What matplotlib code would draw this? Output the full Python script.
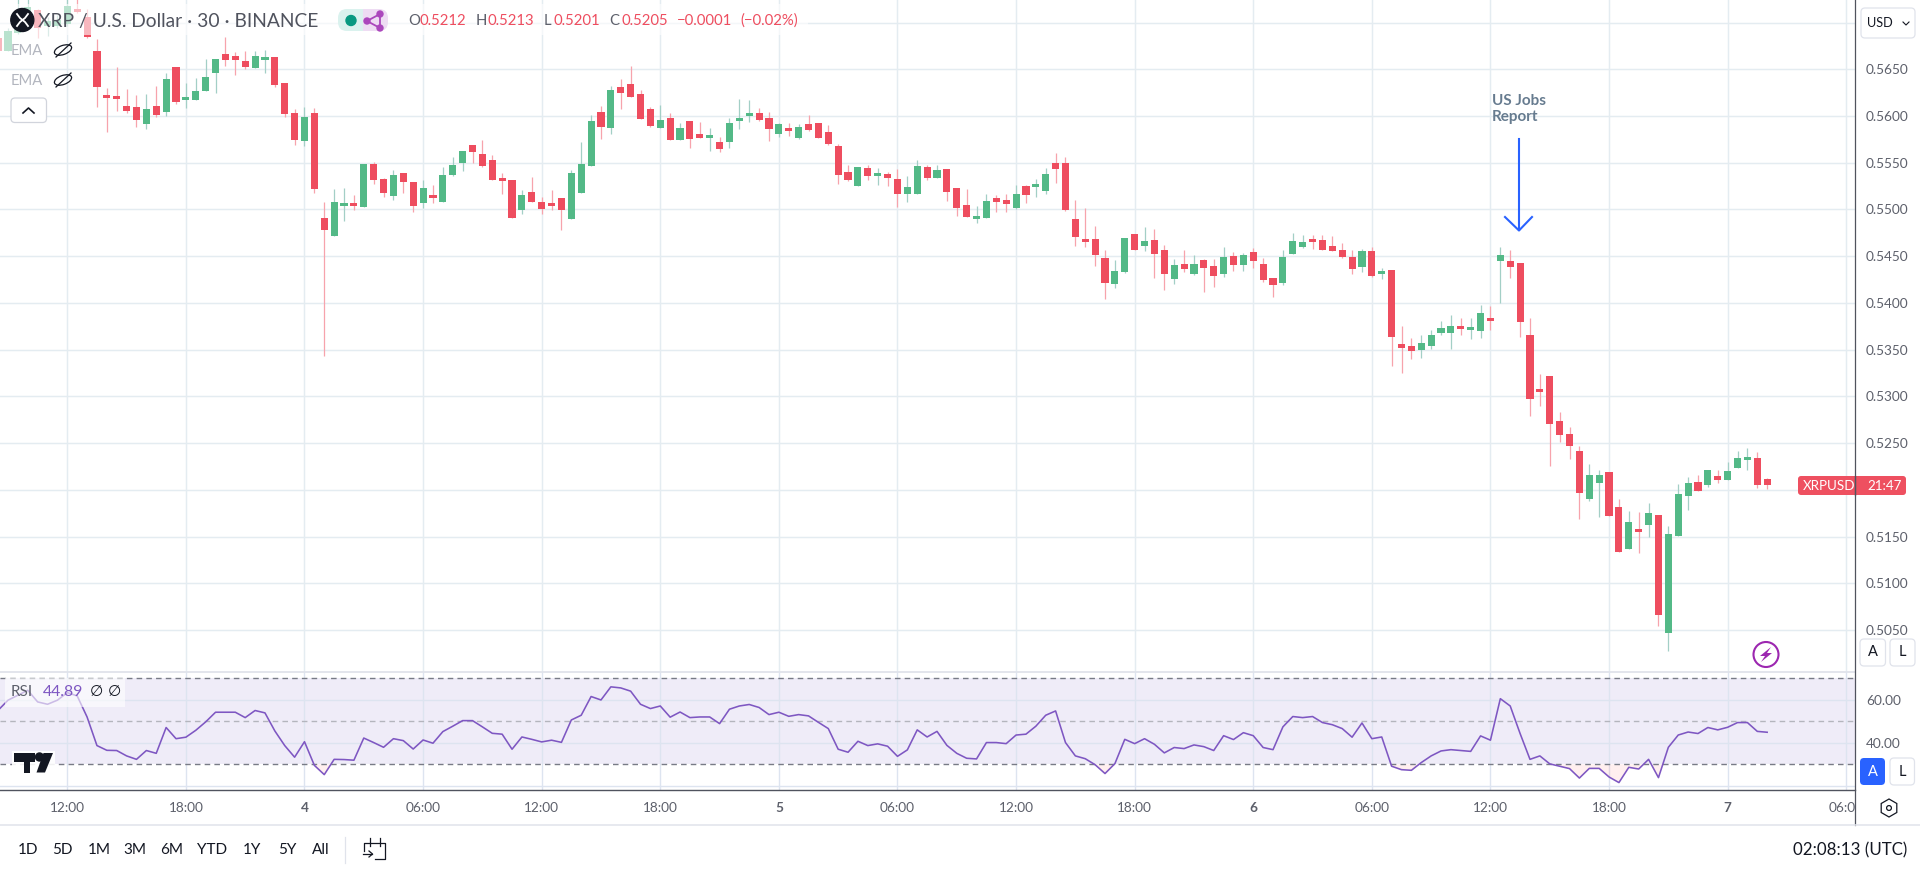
#!/usr/bin/env python3
"""
XRP / USD 30 minute candles with RSI pane, drawn to look like the tradingview screen
prices below are in 1/10000 dollar, read off the screenshot
"""

import numpy as np
import matplotlib

matplotlib.use("Agg")
import matplotlib.pyplot as plt
from matplotlib.patches import Circle, Ellipse, FancyBboxPatch, Polygon, Rectangle, RegularPolygon
from matplotlib.transforms import Bbox, TransformedBbox

plt.rcParams["font.family"] = ["Lato", "DejaVu Sans"]

W, H = 1920, 873

# candle 0 is 12:00 on the 3rd, one candle is 30 minutes
first_candle = -7

opens = [
    5683, 5670, 5689, 5703, 5713, 5696, 5696, 5699, 5714, 5706,
    5670, 5622, 5621, 5611, 5610, 5591, 5611, 5604, 5652, 5617,
    5617, 5627, 5646, 5666, 5664, 5659, 5651, 5660, 5663, 5635,
    5603, 5573, 5603, 5491, 5472, 5504, 5505, 5503, 5549, 5533,
    5514, 5539, 5529, 5507, 5516, 5508, 5537, 5550, 5569, 5559,
    5553, 5534, 5532, 5499, 5519, 5508, 5507, 5512, 5490, 5518,
    5547, 5604, 5587, 5631, 5634, 5624, 5608, 5587, 5598, 5574,
    5595, 5581, 5577, 5572, 5572, 5595, 5600, 5603, 5598, 5581,
    5587, 5577, 5591, 5593, 5583, 5568, 5540, 5525, 5544, 5536,
    5538, 5533, 5517, 5517, 5545, 5534, 5543, 5523, 5505, 5490,
    5491, 5512, 5510, 5502, 5525, 5524, 5520, 5550, 5550, 5490,
    5468, 5468, 5448, 5420, 5433, 5474, 5461, 5467, 5457, 5426,
    5442, 5431, 5446, 5440, 5431, 5450, 5441, 5455, 5442, 5427,
    5421, 5452, 5460, 5468, 5467, 5461, 5457, 5449, 5438, 5456,
    5431, 5435, 5356, 5354, 5350, 5354, 5368, 5368, 5375, 5371,
    5370, 5384, 5445, 5445, 5443, 5366, 5306, 5322, 5274, 5260,
    5242, 5190, 5207, 5219, 5182, 5137, 5156, 5162, 5173, 5047,
    5151, 5193, 5208, 5205, 5215, 5210, 5223, 5232, 5234, 5212,
]
highs = [
    5688, 5694, 5726, 5726, 5715, 5706, 5708, 5726, 5726, 5714,
    5682, 5630, 5652, 5629, 5622, 5624, 5632, 5646, 5652, 5635,
    5641, 5661, 5661, 5685, 5668, 5670, 5670, 5671, 5663, 5635,
    5608, 5610, 5609, 5508, 5522, 5523, 5516, 5549, 5551, 5534,
    5542, 5539, 5529, 5532, 5526, 5545, 5556, 5563, 5569, 5574,
    5558, 5539, 5532, 5521, 5535, 5513, 5521, 5512, 5542, 5572,
    5601, 5611, 5632, 5640, 5654, 5628, 5610, 5612, 5603, 5593,
    5595, 5594, 5587, 5578, 5598, 5618, 5617, 5609, 5604, 5593,
    5593, 5591, 5601, 5593, 5590, 5570, 5548, 5545, 5548, 5544,
    5540, 5543, 5536, 5553, 5548, 5548, 5543, 5523, 5522, 5504,
    5517, 5516, 5517, 5526, 5526, 5533, 5544, 5560, 5556, 5510,
    5502, 5482, 5457, 5446, 5470, 5474, 5481, 5479, 5462, 5447,
    5457, 5451, 5447, 5447, 5460, 5455, 5453, 5459, 5448, 5427,
    5457, 5475, 5473, 5473, 5473, 5472, 5464, 5457, 5458, 5460,
    5437, 5435, 5375, 5363, 5366, 5371, 5381, 5387, 5384, 5384,
    5398, 5397, 5460, 5457, 5443, 5384, 5324, 5322, 5283, 5267,
    5247, 5228, 5221, 5219, 5190, 5177, 5176, 5186, 5173, 5161,
    5206, 5214, 5216, 5221, 5221, 5230, 5242, 5245, 5240, 5213,
]
lows = [
    5670, 5670, 5688, 5700, 5684, 5686, 5694, 5696, 5710, 5684,
    5610, 5583, 5605, 5603, 5588, 5586, 5599, 5600, 5613, 5609,
    5617, 5627, 5625, 5654, 5644, 5650, 5651, 5646, 5631, 5599,
    5569, 5568, 5518, 5343, 5472, 5488, 5499, 5503, 5527, 5513,
    5510, 5518, 5497, 5502, 5507, 5508, 5536, 5541, 5550, 5545,
    5532, 5517, 5491, 5495, 5508, 5495, 5499, 5478, 5490, 5518,
    5547, 5575, 5581, 5608, 5620, 5597, 5588, 5587, 5574, 5574,
    5566, 5577, 5563, 5562, 5566, 5586, 5594, 5595, 5573, 5578,
    5579, 5575, 5584, 5577, 5569, 5527, 5531, 5525, 5532, 5526,
    5525, 5503, 5508, 5517, 5532, 5534, 5509, 5493, 5492, 5486,
    5491, 5497, 5497, 5501, 5507, 5513, 5517, 5528, 5498, 5461,
    5460, 5440, 5404, 5416, 5432, 5457, 5456, 5427, 5414, 5420,
    5433, 5430, 5412, 5417, 5428, 5434, 5434, 5437, 5422, 5406,
    5419, 5452, 5459, 5458, 5457, 5456, 5448, 5431, 5433, 5428,
    5426, 5332, 5325, 5340, 5341, 5351, 5366, 5351, 5366, 5361,
    5363, 5371, 5400, 5427, 5364, 5279, 5290, 5226, 5251, 5233,
    5169, 5188, 5171, 5172, 5134, 5137, 5132, 5149, 5054, 5028,
    5151, 5178, 5199, 5203, 5207, 5210, 5223, 5221, 5202, 5201,
]
closes = [
    5670, 5691, 5708, 5717, 5694, 5702, 5703, 5718, 5711, 5685,
    5631, 5619, 5618, 5605, 5596, 5608, 5601, 5640, 5615, 5618,
    5627, 5642, 5661, 5660, 5660, 5652, 5664, 5661, 5633, 5602,
    5574, 5599, 5522, 5478, 5508, 5507, 5504, 5549, 5532, 5518,
    5537, 5529, 5504, 5523, 5512, 5537, 5548, 5563, 5562, 5547,
    5532, 5531, 5491, 5516, 5508, 5501, 5504, 5499, 5539, 5549,
    5595, 5588, 5628, 5625, 5620, 5597, 5589, 5596, 5574, 5587,
    5575, 5577, 5578, 5565, 5593, 5598, 5601, 5596, 5586, 5591,
    5584, 5588, 5585, 5577, 5570, 5537, 5532, 5545, 5536, 5539,
    5534, 5517, 5524, 5547, 5534, 5542, 5519, 5502, 5492, 5491,
    5509, 5508, 5506, 5517, 5516, 5525, 5538, 5543, 5499, 5471,
    5465, 5451, 5421, 5434, 5470, 5457, 5466, 5452, 5431, 5441,
    5436, 5442, 5437, 5429, 5449, 5441, 5451, 5445, 5424, 5419,
    5449, 5466, 5465, 5465, 5457, 5456, 5449, 5436, 5456, 5429,
    5432, 5364, 5352, 5349, 5357, 5366, 5373, 5375, 5372, 5372,
    5389, 5381, 5451, 5438, 5380, 5297, 5305, 5270, 5259, 5247,
    5197, 5216, 5216, 5172, 5134, 5166, 5155, 5175, 5066, 5153,
    5196, 5207, 5199, 5221, 5211, 5220, 5234, 5235, 5205, 5205,
]
rsi_values = [
    55.1, 59.8, 62.1, 64.4, 59.0, 57.9, 59.8, 63.3, 61.8, 52.0,
    38.7, 36.5, 36.4, 33.9, 32.3, 36.4, 35.1, 47.1, 41.9, 42.6,
    45.8, 49.7, 54.2, 54.2, 54.2, 51.7, 55.0, 53.9, 45.5, 38.7,
    33.3, 40.5, 29.5, 25.2, 32.3, 32.2, 31.9, 42.2, 40.1, 37.9,
    41.9, 41.0, 37.1, 41.3, 39.8, 45.2, 47.7, 50.3, 50.3, 47.4,
    44.4, 44.0, 37.0, 42.7, 41.6, 40.4, 41.2, 40.2, 50.6, 52.8,
    61.5, 59.9, 66.0, 65.5, 64.0, 57.9, 55.9, 57.1, 51.9, 54.3,
    51.7, 52.0, 52.0, 48.9, 55.6, 57.1, 57.8, 56.4, 53.1, 54.2,
    52.3, 53.1, 52.5, 49.5, 46.6, 37.0, 35.6, 40.7, 38.7, 39.5,
    38.4, 33.7, 36.7, 46.0, 42.7, 45.3, 38.8, 35.1, 32.8, 32.5,
    40.1, 40.1, 39.6, 43.6, 44.0, 47.7, 52.8, 54.8, 40.1, 33.9,
    32.6, 29.8, 25.7, 30.3, 41.6, 39.6, 41.9, 39.3, 35.3, 37.8,
    37.3, 39.0, 38.2, 36.4, 43.3, 41.5, 44.7, 43.3, 37.8, 36.8,
    47.4, 52.2, 51.7, 52.2, 49.4, 48.4, 46.6, 42.6, 49.2, 41.9,
    42.7, 29.1, 27.5, 27.2, 30.8, 33.9, 36.2, 36.8, 36.4, 36.0,
    43.2, 41.2, 60.5, 57.1, 44.3, 32.3, 33.9, 30.2, 29.1, 28.0,
    23.6, 28.1, 28.1, 24.1, 21.5, 28.6, 27.8, 32.3, 23.8, 37.9,
    43.6, 45.0, 44.3, 47.1, 46.0, 47.2, 49.4, 49.4, 45.3, 44.89,
]

time_labels = ["12:00", "18:00", "4", "06:00", "12:00", "18:00", "5", "06:00",
               "12:00", "18:00", "6", "06:00", "12:00", "18:00", "7", "06:00"]
price_ticks = [0.505, 0.51, 0.515, 0.52, 0.525, 0.53, 0.535, 0.54, 0.545, 0.55,
               0.555, 0.56, 0.565, 0.57]
# covered on screen by the USD button and the last price tag
price_labels = ["0.5050", "0.5100", "0.5150", "", "0.5250", "0.5300", "0.5350", "0.5400", "0.5450",
                "0.5500", "0.5550", "0.5600", "0.5650", ""]
range_buttons = ["1D", "5D", "1M", "3M", "6M", "YTD", "1Y", "5Y", "All"]
range_button_x = [28, 62, 99, 135, 172, 212, 252, 287, 321]

GREEN, RED = "#53b987", "#ee4d5f"
GREEN_WICK, RED_WICK = "#a3cfc6", "#f7a3ac"
GRID = "#e4ecf1"
AXIS_TEXT = "#5d606b"
DARK = "#131722"
RSI_LINE = "#7e57c2"
BORDER = "#e0e3eb"


def px_axes(fig, left, top, right, bottom):
    return fig.add_axes([left / W, 1 - bottom / H, (right - left) / W, (bottom - top) / H])


def box(ax, x0, y0, x1, y1, face="white", edge=BORDER, radius=4, lw=0.9, **kw):
    patch = FancyBboxPatch((x0, y0), x1 - x0, y1 - y0, boxstyle=f"round,pad=0,rounding_size={radius}",
                           facecolor=face, edgecolor=edge, linewidth=lw, **kw)
    ax.add_patch(patch)


def label(ax, x, y, text, color=DARK, size=9.6, ha="left", **kw):
    ax.text(x, y, text, color=color, fontsize=size, ha=ha, va="center", **kw)


def draw_candles(ax, index, o, h, l, c):
    up = c >= o
    wick_colors = [GREEN_WICK if u else RED_WICK for u in up]
    ax.vlines(index, l, h, colors=wick_colors, linewidth=0.9, zorder=2)
    body_colors = [GREEN if u else RED for u in up]
    body_low = np.minimum(o, c)
    # dojis still get a visible flat body
    body_height = np.maximum(np.abs(c - o), 0.0003)
    ax.bar(index, body_height, bottom=body_low, width=0.72, color=body_colors, linewidth=0, zorder=3)


def draw_price_pane(fig, index):
    ax = px_axes(fig, 0, 0, 1855, 672)
    ax.set_xlim(index_at(0), index_at(1855))
    ax.set_ylim(price_at(672), price_at(0))
    draw_candles(ax, index, np.array(opens) / 1e4, np.array(highs) / 1e4,
                 np.array(lows) / 1e4, np.array(closes) / 1e4)
    ax.set_xticks(np.arange(len(time_labels)) * 12)
    ax.set_xticklabels([])
    ax.set_yticks(price_ticks)
    ax.set_yticklabels(price_labels)
    ax.yaxis.tick_right()
    ax.tick_params(axis="y", length=0, pad=8, labelsize=9.8, labelcolor=AXIS_TEXT)
    ax.tick_params(axis="x", length=0)
    ax.grid(True, color=GRID, linewidth=1.05)
    ax.set_axisbelow(True)
    for name in ["top", "left", "bottom", "right"]:
        ax.spines[name].set_visible(False)
    return ax


def draw_rsi_pane(fig, index):
    ax = px_axes(fig, 0, 672, 1855, 790)
    ax.set_xlim(index_at(0), index_at(1855))
    ax.set_ylim(18.05, 72.9)
    rsi = np.array(rsi_values)
    ax.axhspan(30, 70, color="#efecf8", linewidth=0, zorder=0)
    ax.fill_between(index, rsi, 30, where=rsi < 30, interpolate=True, color="#ff5252", alpha=0.09,
                    linewidth=0, zorder=1)
    ax.axhline(70, color="#787b86", linewidth=1.0, dashes=(4, 3), zorder=2)
    ax.axhline(30, color="#787b86", linewidth=1.0, dashes=(4, 3), zorder=2)
    ax.axhline(50, color="#b4b5bd", linewidth=1.0, dashes=(4, 3), zorder=2)
    ax.plot(index, rsi, color=RSI_LINE, linewidth=1.15, zorder=3)

    ax.set_xticks(np.arange(len(time_labels)) * 12)
    ax.set_xticklabels(time_labels)
    ax.set_yticks([20, 40, 60])
    ax.set_yticklabels(["", "40.00", "60.00"])
    ax.yaxis.tick_right()
    ax.tick_params(axis="y", length=0, pad=8, labelsize=9.8, labelcolor=AXIS_TEXT)
    ax.tick_params(axis="x", length=0, pad=9, labelsize=9.8, labelcolor=AXIS_TEXT)
    ax.grid(True, color="#dde4f0", linewidth=1.0)
    ax.set_axisbelow(True)
    # last label runs into the price scale and gets cut there
    clip = TransformedBbox(Bbox([[0, 0], [1855 / W, 1]]), fig.transFigure)
    for tick_label in ax.get_xticklabels():
        tick_label.set_clip_box(clip)
        tick_label.set_clip_on(True)
        if tick_label.get_text() in ("4", "5", "6", "7"):
            tick_label.set_fontweight("bold")
    for name in ["top", "left", "right"]:
        ax.spines[name].set_visible(False)
    ax.spines["bottom"].set_color("#50535e")
    ax.spines["bottom"].set_linewidth(1.0)
    return ax


def price_at(y_px):
    return 0.565 + (69.3 - y_px) / 9345


def index_at(x_px):
    return (x_px - 67.3) / 9.883


def draw_legend(ov):
    # the legend rows wash out whatever is under them
    ov.add_patch(Rectangle((0, 4), 808, 31, facecolor="white", alpha=0.6, linewidth=0))
    ov.add_patch(Rectangle((0, 35), 67, 28, facecolor="white", alpha=0.6, linewidth=0))

    ov.add_patch(Circle((22.3, 20), 11.5, color=DARK))
    ov.plot([17, 20, 25, 28], [14, 18, 22, 26], color="white", lw=1.3)
    ov.plot([17, 20, 25, 28], [26, 22, 18, 14], color="white", lw=1.3)
    label(ov, 38, 21, "XRP / U.S. Dollar · 30 · BINANCE", color="#50535e", size=13.9)

    box(ov, 338, 9, 378, 31, face="#daf2ee", edge="none", radius=9)
    box(ov, 350, 9, 388, 31, face="#eedcf3", edge="none", radius=9)
    ov.add_patch(Rectangle((348, 9), 15, 22, facecolor="#daf2ee", linewidth=0))
    ov.add_patch(Circle((351, 20.5), 5, color="#089981"))
    share = [(380, 14), (367, 21), (380, 28)]
    ov.plot([p[0] for p in share], [p[1] for p in share], color="#ab47bc", lw=1.3)
    ov.plot([380, 380], [14, 28], color="#ab47bc", lw=1.3)
    for p in share:
        ov.add_patch(Circle(p, 3, color="#ab47bc"))

    for x, text, color in [(408, "O", AXIS_TEXT), (420, "0.5212", RED), (476, "H", AXIS_TEXT), (488, "0.5213", RED),
                           (544, "L", AXIS_TEXT), (554, "0.5201", RED), (609, "C", AXIS_TEXT), (622, "0.5205", RED),
                           (677, "−0.0001", RED), (740, "(−0.02%)", RED)]:
        label(ov, x, 21, text, color=color, size=10.7)

    for y in [50, 80]:
        label(ov, 11, y + 1, "EMA", color="#b2b5be", size=10.6)
        ov.add_patch(Ellipse((63, y), 18, 9, angle=-20, facecolor="none", edgecolor=DARK, linewidth=0.9))
        ov.plot([56, 71], [y + 7, y - 7], color=DARK, lw=0.9)
    box(ov, 11, 98, 46.5, 122.5, edge="#d1d4dc")
    ov.plot([23, 28.5, 34], [113, 108, 113], color=DARK, lw=1.2)


def draw_annotation(ov):
    label(ov, 1492, 101, "US Jobs", color="#667b8f", size=11, fontweight="bold")
    label(ov, 1492, 117, "Report", color="#667b8f", size=11, fontweight="bold")
    ov.plot([1519, 1519], [139, 230], color="#2962ff", lw=1.5)
    ov.plot([1505, 1519, 1532], [217, 230.5, 217], color="#2962ff", lw=1.5)


def draw_price_scale(ov):
    ov.plot([1855, 1855], [0, 825], color="#50535e", lw=0.9)
    box(ov, 1861, 8, 1915, 38)
    label(ov, 1867, 23, "USD", color=DARK, size=9.2)
    ov.plot([1903, 1906, 1909], [22, 25, 22], color=DARK, lw=0.8)

    box(ov, 1798, 476, 1906, 495, face="#ee5060", edge="none", radius=3)
    label(ov, 1803, 485.5, "XRPUSD", color="white", size=9.6)
    label(ov, 1867, 485.5, "21:47", color="white", size=9.6)
    ov.plot([1855, 1855], [476, 495], color="#50535e", lw=0.9)

    box(ov, 1860, 639, 1885.5, 666, edge=BORDER)
    box(ov, 1890, 639, 1915, 666, edge=BORDER)
    label(ov, 1872.7, 652.5, "A", size=10.5, ha="center")
    label(ov, 1902.5, 652.5, "L", size=10.5, ha="center")

    box(ov, 1860, 758, 1885, 785, face="#2962ff", edge="none")
    box(ov, 1890, 758, 1914.5, 785, edge=BORDER)
    label(ov, 1872.5, 771.5, "A", color="white", size=10.5, ha="center")
    label(ov, 1902, 771.5, "L", size=10.5, ha="center")

    ov.add_patch(Ellipse((1766, 654.5), 25, 25, facecolor="none", edgecolor="#9c27b0", linewidth=1.5))
    ov.add_patch(Polygon([(1771, 647), (1760, 656), (1765, 656), (1761, 662), (1772, 653), (1767, 653)],
                         closed=True, facecolor="#9c27b0", linewidth=0))


def draw_rsi_legend(ov):
    ov.add_patch(Rectangle((5, 678), 120, 29, facecolor="white", alpha=0.6, linewidth=0))
    label(ov, 11, 692.5, "RSI", color=AXIS_TEXT, size=11)
    label(ov, 43, 692.5, "44.89", color=RSI_LINE, size=11.4)
    label(ov, 90, 692.5, "∅", color=DARK, size=11)
    label(ov, 108, 692.5, "∅", color=DARK, size=11)

    # tradingview mark
    ov.add_patch(Rectangle((12, 751), 43, 24, facecolor="white", alpha=0.9, linewidth=0))
    ov.add_patch(Polygon([(14, 753), (34.5, 753), (34.5, 761.5), (30, 761.5), (30, 772.5), (23.5, 772.5),
                          (23.5, 761.5), (14, 761.5)], closed=True, facecolor=DARK, linewidth=0))
    ov.add_patch(Circle((39.5, 757), 4, color=DARK))
    ov.add_patch(Polygon([(43.5, 753), (53, 753), (45, 772.5), (36.5, 772.5)], closed=True, facecolor=DARK,
                         linewidth=0))


def draw_toolbar(ov):
    ov.plot([0, W], [825, 825], color=BORDER, lw=1.1)
    ov.add_patch(RegularPolygon((1889, 808), 6, radius=9, facecolor="none", edgecolor=DARK, linewidth=0.9))
    ov.add_patch(Circle((1889, 808), 2.4, facecolor="none", edgecolor=DARK, linewidth=0.9))

    for x, text in zip(range_button_x, range_buttons):
        label(ov, x, 850, text, size=11, ha="center")
    ov.plot([345, 345], [837, 863], color=BORDER, lw=0.9)

    # go to date icon
    ov.plot([364, 364, 385, 385, 375], [851, 843, 843, 859, 859], color=DARK, lw=0.9)
    ov.plot([370, 370], [838, 846], color=DARK, lw=0.9)
    ov.plot([380, 380], [838, 846], color=DARK, lw=0.9)
    ov.plot([363, 372], [854, 854], color=DARK, lw=0.9)
    ov.plot([369, 372.5, 369], [851, 854, 857], color=DARK, lw=0.9)

    label(ov, 1907, 850, "02:08:13 (UTC)", size=12.2, ha="right")


def main():
    fig = plt.figure(figsize=(W / 100, H / 100), dpi=100, facecolor="white")
    index = np.arange(first_candle, first_candle + len(closes))

    draw_price_pane(fig, index)
    draw_rsi_pane(fig, index)

    # everything that is screen furniture goes on a pixel overlay
    ov = fig.add_axes([0, 0, 1, 1], zorder=10)
    ov.set_xlim(0, W)
    ov.set_ylim(H, 0)
    ov.axis("off")
    ov.patch.set_visible(False)
    ov.plot([0, 1855], [672, 672], color=BORDER, lw=1.3)

    draw_legend(ov)
    draw_annotation(ov)
    draw_price_scale(ov)
    draw_rsi_legend(ov)
    draw_toolbar(ov)

    fig.savefig("out.png", dpi=100)


if __name__ == "__main__":
    main()
